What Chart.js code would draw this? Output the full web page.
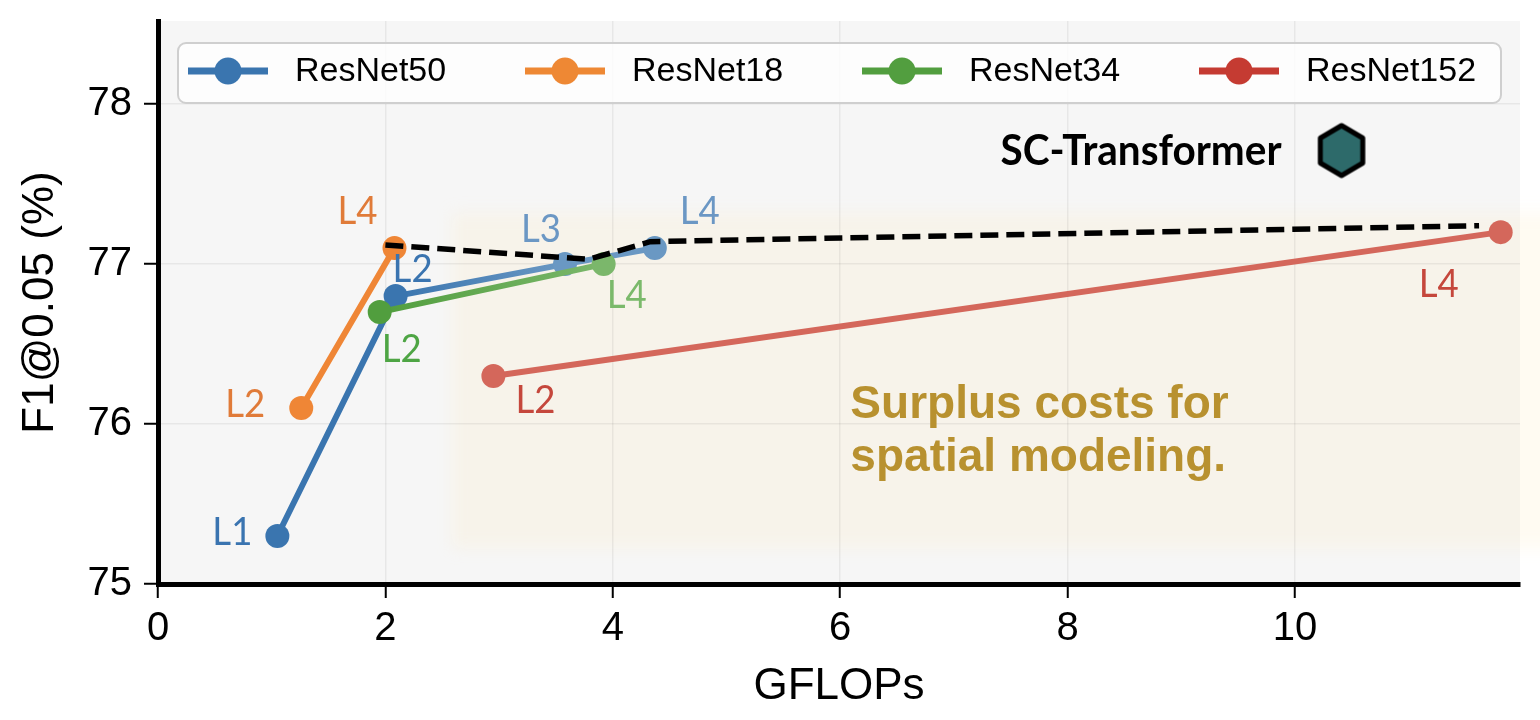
<!DOCTYPE html>
<html>
<head>
<meta charset="utf-8">
<script src="https://cdn.jsdelivr.net/npm/chart.js@4.4.1/dist/chart.umd.min.js"></script>
<style>
  html, body { margin: 0; padding: 0; background: #ffffff; }
  #wrap { width: 1540px; height: 720px; }
</style>
</head>
<body>
<div id="wrap"><canvas id="chart" width="1540" height="720"></canvas></div>
<script>
// ---- data ----
const xTicks = [0, 2, 4, 6, 8, 10];
const yTicks = [75, 76, 77, 78];

const seriesNames = ['ResNet50', 'ResNet18', 'ResNet34', 'ResNet152'];

const resnet50Flops = [1.05, 2.09, 3.58, 4.37];
const resnet50F1 = [75.3, 76.8, 77.0, 77.1];
const resnet50Stages = ['L1', 'L2', 'L3', 'L4'];

const resnet18Flops = [1.26, 2.08];
const resnet18F1 = [76.1, 77.1];
const resnet18Stages = ['L2', 'L4'];

const resnet34Flops = [1.95, 3.92];
const resnet34F1 = [76.7, 77.0];
const resnet34Stages = ['L2', 'L4'];

const resnet152Flops = [2.95, 11.81];
const resnet152F1 = [76.3, 77.2];
const resnet152Stages = ['L2', 'L4'];

const frontierFlops = [2.0, 3.79, 4.33, 11.62];
const frontierF1 = [77.12, 77.03, 77.14, 77.24];

const scTransformerFlops = [10.41];
const scTransformerF1 = [77.71];

const surplusZoneFlops = [2.58, 12.4];
const surplusZoneF1 = [75.22, 77.32];
const surplusNote = ['Surplus costs for', 'spatial modeling.'];

// ---- styles ----
const STYLE = {
  resnet50: {
    legend: '#3a75af',
    points: ['#3a75af', '#3a75af', '#6a98c3', '#6a98c3'],
    labels: ['#3a74b0', '#3a74b0', '#6b97c4', '#6b97c4'],
    offsets: [[-45, -5], [17, -28], [-24, -36], [45, -38]],
  },
  resnet18: {
    legend: '#ee8834',
    points: ['#ef8636', '#ef8636'],
    labels: ['#e07b39', '#e07b39'],
    offsets: [[-56, -5], [-37, -38]],
  },
  resnet34: {
    legend: '#529e3f',
    points: ['#519e3e', '#7bb76b'],
    labels: ['#4ea544', '#7bb96b'],
    offsets: [[22, 36], [23, 30]],
  },
  resnet152: {
    legend: '#c53b32',
    points: ['#d4675b', '#d4675b'],
    labels: ['#c5473c', '#c5473c'],
    offsets: [[42, 23], [-62, 51]],
  },
};

const toPoints = (xs, ys) => xs.map((v, i) => ({ x: v, y: ys[i] }));

// gradient between consecutive point colours
function segmentColor(colors) {
  return (c) => {
    const g = c.chart.ctx.createLinearGradient(c.p0.x, c.p0.y, c.p1.x, c.p1.y);
    g.addColorStop(0, colors[c.p0DataIndex]);
    g.addColorStop(1, colors[c.p1DataIndex]);
    return g;
  };
}

function seriesDataset(label, xs, ys, stages, style, order) {
  return {
    label,
    data: toPoints(xs, ys),
    stages,
    labelStyle: style,
    borderColor: style.points[0],
    backgroundColor: style.points,
    pointBackgroundColor: style.points,
    pointBorderWidth: 0,
    pointRadius: 12,
    borderWidth: 6,
    borderCapStyle: 'round',
    segment: { borderColor: segmentColor(style.points) },
    order,
  };
}

function makeHexagon() {
  const c = document.createElement('canvas');
  c.width = 58;
  c.height = 62;
  const g = c.getContext('2d');
  g.beginPath();
  for (let k = 0; k < 6; k++) {
    const ang = -Math.PI / 2 + k * Math.PI / 3;
    const px = 29 + 24.5 * Math.cos(ang);
    const py = 31 + 25 * Math.sin(ang);
    if (k) g.lineTo(px, py); else g.moveTo(px, py);
  }
  g.closePath();
  g.fillStyle = '#2d6a6a';
  g.fill();
  g.lineWidth = 5;
  g.lineJoin = 'round';
  g.strokeStyle = '#000000';
  g.stroke();
  return c;
}

/**
 * Background, annotations and the boxed legend
 */
const decorations = {
  id: 'decorations',
  beforeDraw(chart) {
    const { ctx, chartArea: a, scales: { x, y } } = chart;
    ctx.save();
    ctx.fillStyle = '#f6f6f6';
    ctx.fillRect(a.left, a.top, a.right - a.left, a.bottom - a.top);

    // soft cream zone behind the costly models
    const x0 = x.getPixelForValue(surplusZoneFlops[0]);
    const x1 = x.getPixelForValue(surplusZoneFlops[1]);
    const y0 = y.getPixelForValue(surplusZoneF1[1]);
    const y1 = y.getPixelForValue(surplusZoneF1[0]);
    ctx.filter = 'blur(8px)';
    ctx.fillStyle = 'rgba(255, 235, 190, 0.2)';
    ctx.fillRect(x0, y0, x1 - x0, y1 - y0);
    ctx.restore();
  },

  afterDatasetsDraw(chart) {
    const { ctx, scales: { x, y } } = chart;
    ctx.save();

    // stage labels next to each marker
    ctx.font = '38px Lato';
    ctx.textAlign = 'center';
    ctx.textBaseline = 'alphabetic';
    chart.data.datasets.forEach((ds, i) => {
      if (!ds.stages) return;
      const meta = chart.getDatasetMeta(i);
      meta.data.forEach((pt, j) => {
        const [dx, dy] = ds.labelStyle.offsets[j];
        ctx.fillStyle = ds.labelStyle.labels[j];
        ctx.fillText(ds.stages[j], pt.x + dx, pt.y + dy + 13.5, 40);
      });
    });

    // SC-Transformer tag
    const hexIdx = chart.data.datasets.findIndex((d) => d.label === 'SC-Transformer');
    const hex = chart.getDatasetMeta(hexIdx).data[0];
    ctx.font = 'bold 42px Lato';
    ctx.textAlign = 'right';
    ctx.fillStyle = '#000000';
    ctx.fillText('SC-Transformer', hex.x - 60, hex.y + 14, 281);

    // surplus note
    ctx.font = 'bold 46px "Liberation Sans"';
    ctx.textAlign = 'left';
    ctx.fillStyle = '#b8912f';
    const nx = x.getPixelForValue(6.09);
    const ny = y.getPixelForValue(76.04);
    surplusNote.forEach((line, k) => ctx.fillText(line, nx, ny + k * 53));
    ctx.restore();
  },

  afterDraw(chart) {
    const { ctx, chartArea: a } = chart;
    const left = a.left + 20;
    const right = a.right - 19;
    const top = a.top + 22;
    const h = 60;
    ctx.save();
    ctx.beginPath();
    ctx.roundRect(left, top, right - left, h, 8);
    ctx.fillStyle = 'rgba(255, 255, 255, 0.8)';
    ctx.fill();
    ctx.lineWidth = 2;
    ctx.strokeStyle = '#cfcfcf';
    ctx.stroke();

    const cy = top + h / 2 - 2;
    const colors = [STYLE.resnet50.legend, STYLE.resnet18.legend, STYLE.resnet34.legend, STYLE.resnet152.legend];
    seriesNames.forEach((name, i) => {
      const x0 = left + 10 + i * 337;
      ctx.strokeStyle = colors[i];
      ctx.lineWidth = 7;
      ctx.beginPath();
      ctx.moveTo(x0, cy);
      ctx.lineTo(x0 + 80, cy);
      ctx.stroke();
      ctx.fillStyle = colors[i];
      ctx.beginPath();
      ctx.arc(x0 + 40, cy, 13.5, 0, Math.PI * 2);
      ctx.fill();
      ctx.fillStyle = '#000000';
      ctx.font = '34px "Liberation Sans"';
      ctx.textAlign = 'left';
      ctx.textBaseline = 'middle';
      ctx.fillText(name, x0 + 107, cy + 1);
    });
    ctx.restore();
  },
};

const tickFont = { family: 'Liberation Sans', size: 40 };
const titleFont = { family: 'Liberation Sans', size: 44 };

new Chart(document.getElementById('chart'), {
  type: 'line',
  data: {
    datasets: [
      {
        label: 'Frontier',
        data: toPoints(frontierFlops, frontierF1),
        borderColor: '#000000',
        borderWidth: 5.5,
        borderDash: [18, 8],
        pointRadius: 0,
        order: 0,
      },
      {
        label: 'SC-Transformer',
        data: toPoints(scTransformerFlops, scTransformerF1),
        showLine: false,
        pointStyle: makeHexagon(),
        order: 0,
      },
      seriesDataset('ResNet34', resnet34Flops, resnet34F1, resnet34Stages, STYLE.resnet34, 1),
      seriesDataset('ResNet50', resnet50Flops, resnet50F1, resnet50Stages, STYLE.resnet50, 2),
      seriesDataset('ResNet18', resnet18Flops, resnet18F1, resnet18Stages, STYLE.resnet18, 3),
      seriesDataset('ResNet152', resnet152Flops, resnet152F1, resnet152Stages, STYLE.resnet152, 4),
    ],
  },
  options: {
    responsive: false,
    animation: false,
    layout: { padding: { top: 21, right: 20, left: 0, bottom: 0 } },
    plugins: {
      legend: { display: false },
      tooltip: { enabled: false },
    },
    scales: {
      x: {
        type: 'linear',
        min: 0,
        max: 11.98,
        afterBuildTicks: (s) => { s.ticks = xTicks.map((v) => ({ value: v })); },
        afterFit: (s) => { s.height = 136; s.paddingLeft = 0; s.paddingRight = 0; },
        grid: { color: 'rgba(0, 0, 0, 0.06)', lineWidth: 1.5, tickColor: '#000000', tickLength: 14, tickWidth: 2 },
        border: { color: '#000000', width: 5 },
        ticks: { color: '#000000', font: tickFont, padding: 7, maxRotation: 0 },
        title: { display: true, text: 'GFLOPs', color: '#000000', font: titleFont, padding: { top: 0, bottom: 7 } },
      },
      y: {
        type: 'linear',
        min: 75,
        max: 78.52,
        afterBuildTicks: (s) => { s.ticks = yTicks.map((v) => ({ value: v })); },
        afterFit: (s) => { s.width = 158; s.paddingTop = 0; s.paddingBottom = 0; },
        grid: { color: 'rgba(0, 0, 0, 0.06)', lineWidth: 1.5, tickColor: '#000000', tickLength: 14, tickWidth: 2 },
        border: { color: '#000000', width: 5 },
        ticks: { color: '#000000', font: tickFont, padding: 12 },
        title: { display: true, text: 'F1@0.05 (%)', color: '#000000', font: titleFont, padding: { top: 14, bottom: 0 } },
      },
    },
  },
  plugins: [decorations],
});
</script>
</body>
</html>
